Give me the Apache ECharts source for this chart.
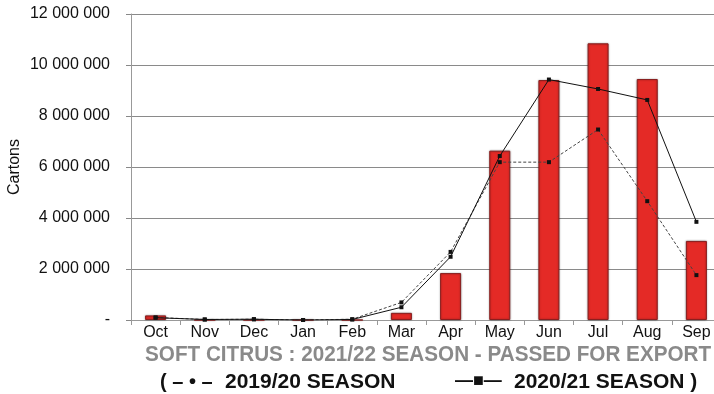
<!DOCTYPE html>
<html>
<head>
<meta charset="utf-8">
<script src="https://cdn.jsdelivr.net/npm/echarts@6/dist/echarts.min.js"></script>
<style>
  html, body { margin: 0; padding: 0; background: #fff; }
  #chart { width: 714px; height: 394px; }
</style>
</head>
<body>
<div id="chart"></div>
<script>
// Months of the citrus season (October to September)
const months = ['Oct', 'Nov', 'Dec', 'Jan', 'Feb', 'Mar', 'Apr', 'May', 'Jun', 'Jul', 'Aug', 'Sep'];

// Cartons passed for export per month
const season2122 = [180000, 0, 0, 0, 0, 280000, 1840000, 6640000, 9410000, 10850000, 9450000, 3100000];
const season1920 = [100000, 20000, 30000, 0, 30000, 690000, 2670000, 6190000, 6190000, 7470000, 4660000, 1760000];
const season2021 = [90000, 20000, 30000, 0, 20000, 500000, 2480000, 6430000, 9430000, 9060000, 8630000, 3850000];

// Value axis ticks
const yTicks = [0, 2000000, 4000000, 6000000, 8000000, 10000000, 12000000];

const titleText = 'SOFT CITRUS : 2021/22 SEASON - PASSED FOR EXPORT';
const legendItems = [
  { mark: '( \u2013 \u2022 \u2013', label: '2019/20 SEASON' },
  { mark: '\u2014\u25A0\u2014', label: '2020/21 SEASON )' }
];

function fmt(v) {
  if (v === 0) return '-';
  return String(v).replace(/\B(?=(\d{3})+(?!\d))/g, ' ');
}

const FONT = '"Liberation Sans", Arial, sans-serif';

const chart = echarts.init(document.getElementById('chart'), null, { renderer: 'canvas' });

chart.setOption({
  animation: false,
  backgroundColor: '#fff',
  grid: {
    left: 131, right: -7, top: 14, bottom: 74,
    containLabel: false,
    outerBoundsMode: 'none'
  },
  xAxis: {
    type: 'category',
    data: months,
    axisLine: { show: true, lineStyle: { color: '#999', width: 1 } },
    axisTick: { show: true, length: 5, lineStyle: { color: '#999' } },
    axisLabel: { color: '#111', fontSize: 16, fontFamily: FONT, margin: 5 }
  },
  yAxis: {
    type: 'value',
    min: yTicks[0],
    max: yTicks[yTicks.length - 1],
    interval: yTicks[1] - yTicks[0],
    name: 'Cartons',
    nameLocation: 'middle',
    nameRotate: 90,
    nameGap: 108,
    nameMoveOverlap: false,
    nameTextStyle: { color: '#111', fontSize: 16, fontFamily: FONT },
    axisLine: { show: true, lineStyle: { color: '#999', width: 1 } },
    axisTick: { show: true, length: 5, lineStyle: { color: '#888' } },
    splitLine: { show: true, lineStyle: { color: '#8a8a8a', width: 1 } },
    axisLabel: {
      color: '#111', fontSize: 16, fontFamily: FONT, margin: 21,
      formatter: fmt
    }
  },
  series: [
    {
      name: '2021/22',
      type: 'bar',
      data: season2122,
      barWidth: 21,
      itemStyle: {
        color: '#e42a26',
        borderColor: '#8a1f1f',
        borderWidth: 1,
        shadowColor: 'rgba(0,0,0,0.35)',
        shadowBlur: 2
      },
      z: 2
    },
    {
      name: '2019/20',
      type: 'line',
      data: season1920,
      symbol: 'rect',
      symbolSize: 4,
      lineStyle: { color: '#444', width: 1, type: [3, 2] },
      itemStyle: { color: '#111' },
      z: 3
    },
    {
      name: '2020/21',
      type: 'line',
      data: season2021,
      symbol: 'rect',
      symbolSize: 4,
      lineStyle: { color: '#111', width: 1, type: 'solid' },
      itemStyle: { color: '#111' },
      z: 4
    }
  ],
  graphic: [
    {
      type: 'text',
      x: 145, y: 344,
      scaleX: 0.94,
      style: {
        text: titleText,
        fill: '#8a8a8a',
        font: 'bold 22px ' + FONT
      }
    },
    {
      type: 'text',
      x: 160, y: 372,
      style: { text: legendItems[0].mark, fill: '#111', font: 'bold 20px ' + FONT }
    },
    {
      type: 'text',
      x: 225, y: 372,
      style: { text: legendItems[0].label, fill: '#111', font: 'bold 21px ' + FONT }
    },
    {
      type: 'text',
      x: 455, y: 372,
      style: { text: legendItems[1].mark, fill: '#111', font: 'bold 18px ' + FONT }
    },
    {
      type: 'text',
      x: 514, y: 372,
      style: { text: legendItems[1].label, fill: '#111', font: 'bold 21px ' + FONT }
    }
  ]
});
</script>
</body>
</html>
